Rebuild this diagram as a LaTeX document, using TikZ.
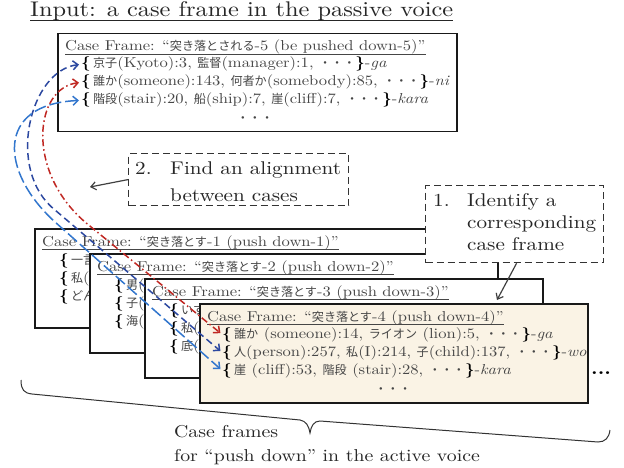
\documentclass[tikz,border=0pt]{standalone}
\usepackage{fontspec}
\setmainfont{lmroman10-regular.otf}[FakeStretch=1.15, BoldFont=lmroman10-bold.otf, ItalicFont=lmroman10-italic.otf]
\newfontfamily\jpfont{Noto Sans CJK JP}[Scale=0.84]
\usetikzlibrary{arrows.meta}

\definecolor{framebg}{RGB}{250,243,229}
\definecolor{linkdark}{RGB}{44,72,160}
\definecolor{linksky}{RGB}{50,118,205}
\definecolor{linkred}{RGB}{192,40,35}
\definecolor{textgray}{RGB}{70,70,70}

\newcommand{\ja}[1]{{\jpfont #1}}
\newcommand{\tdots}{{\jpfont ・・・}}
\newcommand{\lb}{{\color{black}\textbf{\{}}\,}
\newcommand{\rb}{{\color{black}\textbf{\}}}}

\tikzset{
  cframe/.style={draw=black!90, line width=1.5pt, fill=white, anchor=north west, inner sep=0pt},
  ctext/.style={anchor=base west, inner sep=0pt, text=textgray, font=\fontsize{14.4}{17}\selectfont},
  bigtext/.style={anchor=base west, inner sep=0pt, text=black!85, font=\fontsize{18.4}{22}\selectfont},
  notebox/.style={draw=black!80, line width=1.2pt, dash pattern=on 7pt off 4pt, fill=white, anchor=north west, inner sep=0pt},
  link/.style={line width=1.5pt, {Straight Barb[length=5pt,width=9pt]}-{Straight Barb[length=5pt,width=9pt]}, shorten <=2pt, shorten >=2pt},
}

\begin{document}
\begin{tikzpicture}[x=1pt, y=-1pt]
\useasboundingbox (0,0) rectangle (624,468);

% heading
\node[anchor=base west, inner sep=0pt, text=black!85, font=\fontsize{21.2}{26}\selectfont] (head) at (30,17) {Input: a case frame in the passive voice};
\draw[line width=1pt, black!85] ([yshift=-3.5pt]head.base west) -- ([yshift=-3.5pt]head.base east);

% passive case frame
\node[cframe, minimum width=399, minimum height=98] (pf) at (57,33) {};
\node[ctext] (pt) at (65,51) {Case Frame: “\ja{突き落とされる}-5 (be pushed down-5)”};
\draw[line width=0.6pt, textgray] ([yshift=-3pt]pt.base west) -- ([yshift=-3pt]pt.base east);
\node[ctext] (p-ga) at (81,68) {\lb\ja{京子}(Kyoto):3, \ja{監督}(manager):1, \tdots\rb-\textit{ga}};
\node[ctext] (p-ni) at (81,86) {\lb\ja{誰か}(someone):143, \ja{何者か}(somebody):85, \tdots\rb-\textit{ni}};
\node[ctext] (p-kara) at (81,104) {\lb\ja{階段}(stair):20, \ja{船}(ship):7, \ja{崖}(cliff):7, \tdots\rb-\textit{kara}};
\node[ctext, anchor=base] (pd) at (255,123) {\tdots};

% active case frames
\node[cframe, minimum width=410, minimum height=99] (f1) at (34,228) {};
\node[ctext] (t1) at (42,246) {Case Frame: “\ja{突き落とす}-1 (push down-1)”};
\draw[line width=0.6pt, textgray] ([yshift=-3pt]t1.base west) -- ([yshift=-3pt]t1.base east);
\node[ctext] (f1-a) at (59,264) {\lb\ja{一言}};
\node[ctext] (f1-b) at (59,282) {\lb\ja{私}(};
\node[ctext] (f1-c) at (59,300) {\lb\ja{どん}};

\node[cframe, minimum width=408, minimum height=99] (f2) at (89,253) {};
\node[ctext] (t2) at (97,271) {Case Frame: “\ja{突き落とす}-2 (push down-2)”};
\draw[line width=0.6pt, textgray] ([yshift=-3pt]t2.base west) -- ([yshift=-3pt]t2.base east);
\node[ctext] (f2-a) at (114,289) {\lb\ja{男}(};
\node[ctext] (f2-b) at (114,307) {\lb\ja{子}(};
\node[ctext] (f2-c) at (114,325) {\lb\ja{海}(};

\node[cframe, minimum width=398, minimum height=99] (f3) at (144,278) {};
\node[ctext] (t3) at (152,296) {Case Frame: “\ja{突き落とす}-3 (push down-3)”};
\draw[line width=0.6pt, textgray] ([yshift=-3pt]t3.base west) -- ([yshift=-3pt]t3.base east);
\node[ctext] (f3-a) at (169,314) {\lb\ja{いす}};
\node[ctext] (f3-b) at (169,332) {\lb\ja{私}(};
\node[ctext] (f3-c) at (169,350) {\lb\ja{底}(};

\node[cframe, fill=framebg, minimum width=388, minimum height=99] (f4) at (199,303) {};
\node[ctext] (t4) at (207,321) {Case Frame: “\ja{突き落とす}-4 (push down-4)”};
\draw[line width=0.6pt, textgray] ([yshift=-3pt]t4.base west) -- ([yshift=-3pt]t4.base east);
\node[ctext] (a-ga) at (222,338) {\lb\ja{誰か} (someone):14, \ja{ライオン} (lion):5, \tdots\rb-\textit{ga}};
\node[ctext] (a-wo) at (222,356) {\lb\ja{人}(person):257, \ja{私}(I):214, \ja{子}(child):137, \tdots\rb-\textit{wo}};
\node[ctext] (a-kara) at (222,374) {\lb\ja{崖} (cliff):53, \ja{階段} (stair):28, \tdots\rb-\textit{kara}};
\node[ctext, anchor=base] (ad) at (393,393) {\tdots};
\node[anchor=base west, inner sep=0pt, font=\fontsize{18}{22}\selectfont\bfseries] (more) at (591,374) {...};

% step 1
\node[notebox, minimum width=178, minimum height=77] (s1) at (425,185) {};
\node[bigtext] (s1-n) at (433,207) {1.};
\node[bigtext] (s1-a) at (467,207) {Identify a};
\node[bigtext] (s1-b) at (467,228) {corresponding};
\node[bigtext] (s1-c) at (467,250) {case frame};
\coordinate (s1-to) at (497,300);
\draw[-{Straight Barb[length=5pt,width=8pt]}, line width=1.2pt, black!75] ([xshift=2pt]s1.south) -- (s1-to);

% step 2
\node[notebox, minimum width=220, minimum height=52] (s2) at (128,153) {};
\node[bigtext] (s2-n) at (135,175) {2.};
\node[bigtext] (s2-a) at (170,175) {Find an alignment};
\node[bigtext] (s2-b) at (170,201) {between cases};
\coordinate (s2-to) at (90,187);
\draw[-{Straight Barb[length=5pt,width=8pt]}, line width=1.2pt, black!75] (s2.west) -- (s2-to);

% alignment links
\draw[link, linkdark, dash pattern=on 7pt off 4pt] (p-ga.west) .. controls (30,70) and (5,170) .. (55,210) -- (a-wo.west);
\draw[link, linkred, dash pattern=on 7pt off 3pt on 1.5pt off 3pt] (p-ni.west) .. controls (35,88) and (25,170) .. (85,222) -- (a-ga.west);
\draw[link, linksky, dash pattern=on 12pt off 4pt] (p-kara.west) .. controls (-5,104) and (0,172) .. (55,222) -- (a-kara.west);

% brace
\draw[line width=1pt, black!80] (21,380) .. controls (21,390) and (24,393) .. (32,394) -- (300,420) .. controls (306,421) and (309,426) .. (310,433)
  .. controls (311,426) and (314,421) .. (320,421) -- (598,442) .. controls (605,442) and (609,438) .. (610,430);
\node[bigtext, font=\fontsize{17.2}{20}\selectfont] (cf-a) at (174,437) {Case frames};
\node[bigtext, font=\fontsize{17.2}{20}\selectfont] (cf-b) at (174,461) {for “push down” in the active voice};
\end{tikzpicture}
\end{document}
